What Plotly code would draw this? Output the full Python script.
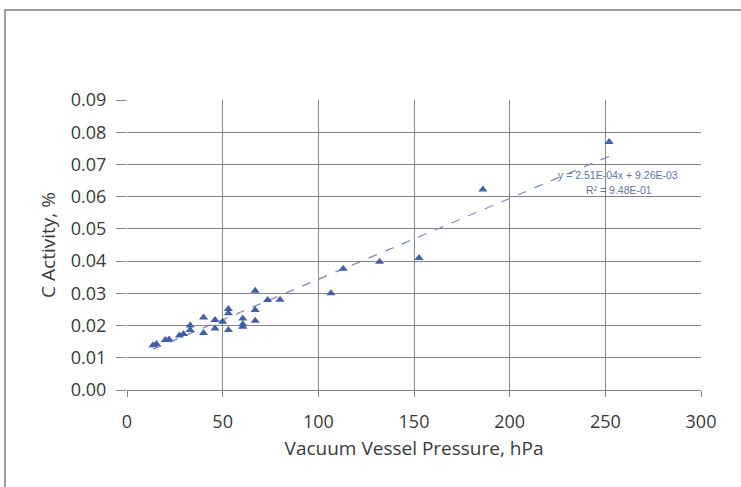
import plotly.graph_objects as go

pressure = [13.6, 15.4, 20.0, 22.0, 27.4, 29.5, 33.0, 33.0, 40.0, 40.0, 46.0, 46.0,
            50.0, 53.0, 53.0, 53.0, 60.5, 60.5, 60.5, 67.0, 67.0, 67.0, 73.5, 80.0,
            106.6, 113.0, 132.0, 152.6, 186.0, 252.0]
activity = [0.0139, 0.0143, 0.0155, 0.0157, 0.0169, 0.0174, 0.0186, 0.0200, 0.0225, 0.0177,
            0.0217, 0.0191, 0.0212, 0.0251, 0.0238, 0.0186, 0.0222, 0.0196, 0.0204, 0.0308,
            0.0248, 0.0215, 0.0279, 0.0280, 0.0300, 0.0376, 0.0398, 0.0410, 0.0622, 0.0770]

slope = 2.51e-04
intercept = 9.26e-03
r2 = 9.48e-01
trend_x = [min(pressure), max(pressure)]
trend_y = [slope * v + intercept for v in trend_x]

x_ticks = [0, 50, 100, 150, 200, 250, 300]
y_ticks = [0.00, 0.01, 0.02, 0.03, 0.04, 0.05, 0.06, 0.07, 0.08, 0.09]

fig = go.Figure()
fig.add_trace(go.Scatter(x=trend_x, y=trend_y, mode="lines",
                         line=dict(color="#7b8fbf", width=1.3, dash="dash"),
                         showlegend=False, hoverinfo="skip"))
fig.add_trace(go.Scatter(x=pressure, y=activity, mode="markers",
                         marker=dict(symbol="triangle-up", size=8, color="#3f5fa8"),
                         showlegend=False))

ann_font = dict(family="Liberation Sans", size=10.5, color="#5f74a6")
fig.add_annotation(x=0.855, y=0.741, xref="paper", yref="paper",
                   text=f"y = {slope:.2E}x + {intercept:.2E}", showarrow=False,
                   font=ann_font, xanchor="center", yanchor="middle")
fig.add_annotation(x=0.858, y=0.69, xref="paper", yref="paper",
                   text=f"R² = {r2:.2E}", showarrow=False,
                   font=ann_font, xanchor="center", yanchor="middle")

W, H = 741, 487
L, R, T, B = 127, 40, 100, 97
pw, ph = W - L - R, H - T - B
fig.add_shape(type="rect", xref="paper", yref="paper",
              x0=(5 - L) / pw, x1=(W + 10 - L) / pw,
              y0=-(H + 10 - T - ph) / ph, y1=(H - 10 - B) / ph,
              line=dict(color="#808080", width=1.5), fillcolor="rgba(0,0,0,0)", layer="below")

txt = "#3a3a3a"
fig.update_layout(
    width=W, height=H,
    margin=dict(l=L, r=R, t=T, b=B),
    paper_bgcolor="white", plot_bgcolor="white",
    font=dict(family="Open Sans", color=txt),
    xaxis=dict(range=[0, 300], tickvals=x_ticks, ticktext=[str(v) for v in x_ticks],
               showgrid=True, gridcolor="#858585", gridwidth=1,
               showline=True, linecolor="#858585", linewidth=1,
               ticks="outside", ticklen=6, tickcolor="#858585", ticklabelstandoff=9,
               tickfont=dict(size=18, color=txt), zeroline=False,
               title=dict(text="Vacuum Vessel Pressure, hPa", font=dict(size=19, color=txt), standoff=10)),
    yaxis=dict(range=[0, 0.09], tickvals=y_ticks, ticktext=[f"{v:.2f}" for v in y_ticks],
               showgrid=True, gridcolor="#858585", gridwidth=1,
               showline=False, ticks="outside", ticklen=10, tickcolor="#858585", ticklabelstandoff=6,
               tickfont=dict(size=18, color=txt), zeroline=False,
               title=dict(text="C Activity, %", font=dict(size=19, color=txt), standoff=10)),
)

fig.write_html("out.html")
